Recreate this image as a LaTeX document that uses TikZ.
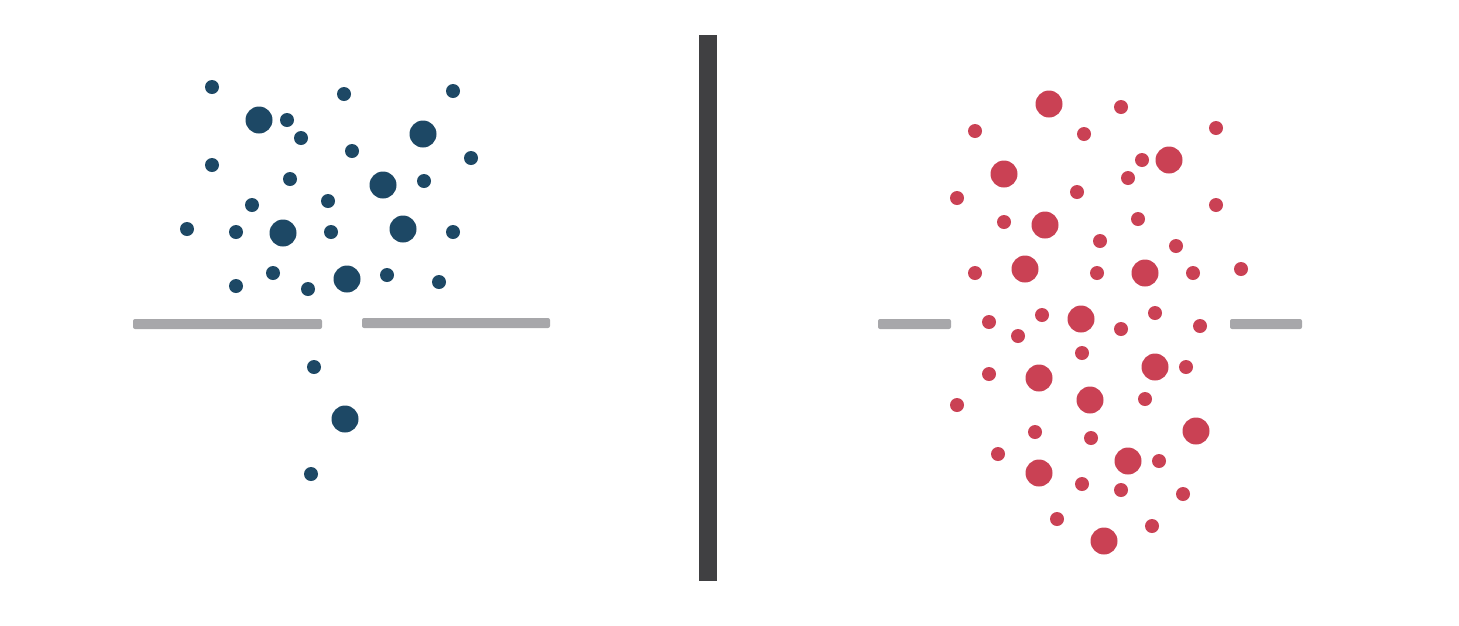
\documentclass[tikz,border=0pt]{standalone}
\definecolor{dotblue}{HTML}{1D4865}
\definecolor{dotred}{HTML}{CA4154}
\definecolor{slotgray}{HTML}{A7A7AA}
\definecolor{walldark}{HTML}{404042}
\tikzset{
  smalldot/.style={fill=#1,draw=none},
  slot/.style={fill=slotgray,rounded corners=2pt},
  wall/.style={fill=walldark}
}
\begin{document}
\begin{tikzpicture}[x=1pt,y=-1pt]
  \useasboundingbox (0,0) rectangle (1459,625);
  \fill[wall] (699,35) rectangle (717,581);
  % left: blocked
  \fill[slot] (133,319) rectangle (322,329);
  \fill[slot] (362,318) rectangle (550,328);
  \foreach \x/\y in {212/87,287/120,301/138,344/94,453/91,352/151,471/158,212/165,290/179,
    424/181,252/205,328/201,187/229,236/232,331/232,453/232,236/286,273/273,308/289,
    387/275,439/282,314/367,311/474}
    \fill[smalldot=dotblue] (\x,\y) circle (7);
  \foreach \x/\y in {259/120,423/134,383/185,283/233,403/229,347/279,345/419}
    \fill[smalldot=dotblue] (\x,\y) circle (13.5);
  % right: open
  \fill[slot] (878,319) rectangle (951,329);
  \fill[slot] (1230,319) rectangle (1302,329);
  \foreach \x/\y in {1121/107,975/131,1084/134,1216/128,1142/160,1128/178,957/198,1077/192,
    1216/205,1004/222,1138/219,1100/241,1176/246,975/273,1097/273,1193/273,1241/269,
    989/322,1042/315,1121/329,1155/313,1200/326,1018/336,1082/353,989/374,1186/367,
    957/405,1145/399,1035/432,1091/438,998/454,1159/461,1082/484,1121/490,1183/494,
    1057/519,1152/526}
    \fill[smalldot=dotred] (\x,\y) circle (7);
  \foreach \x/\y in {1049/104,1004/174,1169/160,1045/225,1025/269,1145/273,1081/319,
    1039/378,1155/367,1090/400,1196/431,1128/461,1039/473,1104/541}
    \fill[smalldot=dotred] (\x,\y) circle (13.5);
\end{tikzpicture}
\end{document}
